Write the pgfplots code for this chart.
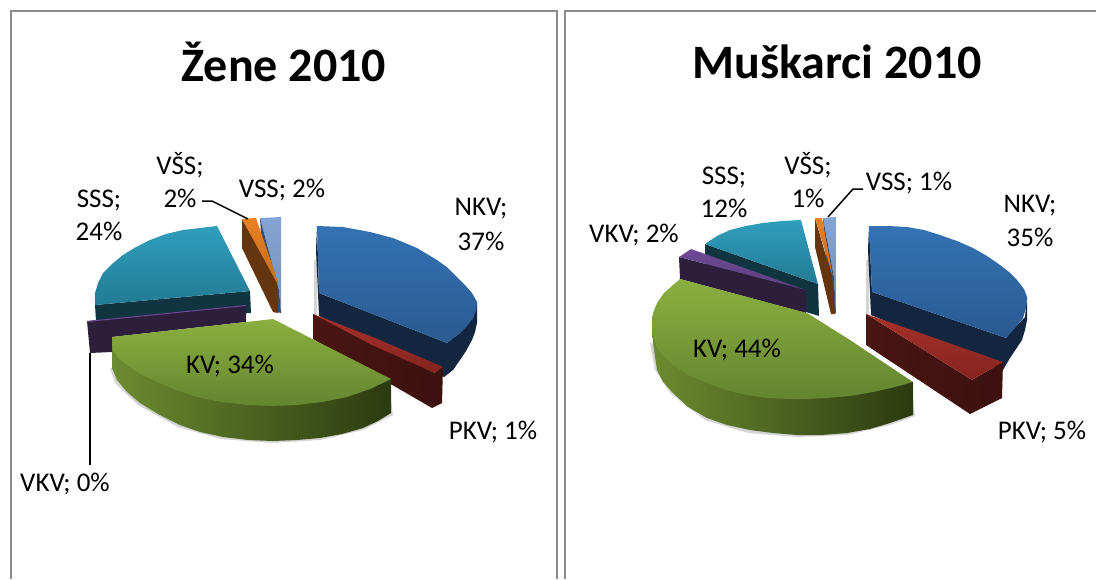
\documentclass[border=0pt]{standalone}
\usepackage{fontspec}
\setmainfont{Carlito}
\usepackage{pgfplots}
\pgfplotsset{compat=1.18}
\definecolor{nkvT}{HTML}{3472B4}\definecolor{nkvB}{HTML}{2A5A90}\definecolor{nkvS}{HTML}{12263F}
\definecolor{pkvT}{HTML}{A8302C}\definecolor{pkvB}{HTML}{842420}\definecolor{pkvS}{HTML}{4A1512}
\definecolor{kvT}{HTML}{8BAF3F}\definecolor{kvB}{HTML}{648530}\definecolor{kvL}{HTML}{6C8C30}\definecolor{kvM}{HTML}{455A1E}\definecolor{kvR}{HTML}{2C3A10}
\definecolor{vkvT}{HTML}{6D4A94}\definecolor{vkvS}{HTML}{2D1E3C}
\definecolor{sssT}{HTML}{2F9FBD}\definecolor{sssB}{HTML}{237A94}\definecolor{sssS}{HTML}{113540}
\definecolor{vssT}{HTML}{84A4D6}\definecolor{vssB}{HTML}{7A90B0}\definecolor{vssS}{HTML}{3B4C66}
\definecolor{vsoT}{HTML}{E98024}\definecolor{vsoS}{HTML}{65350F}
\definecolor{frame}{HTML}{8C8C8C}\definecolor{shad}{HTML}{D4D4D4}
\newcommand{\lab}[3]{\node[font=\fontsize{27}{32}\selectfont,text=black,inner sep=0pt] at (#1,#2) {#3};}
\pgfplotsset{poly/.style={draw=none,forget plot,mark=none}}
\begin{document}
\begin{tikzpicture}
\begin{axis}[scale only axis,width=1096pt,height=579pt,xmin=0,xmax=1096,ymin=0,ymax=579,y dir=reverse,hide axis,clip=true]
\path (axis cs:0,0) -- (axis cs:1096,579);
% frames
\addplot[frame,line width=1.8pt,forget plot,mark=none] coordinates {(11,579)(11,11)(557,11)(557,579)};
\addplot[frame,line width=1.8pt,forget plot,mark=none] coordinates {(565,579)(565,11)(1096,11)};
% ===== left pie =====
% shadows
\addplot[poly,fill=shad] coordinates {(110,368)(115,383)(138,405)(178,427)(221,439)(273,443)(320,440)(363,430)(393,415)(391,400)};
\addplot[poly,fill=shad] coordinates {(314,260)(317,260)(317,320)(314,320)};
% VSS
\addplot[poly,top color=vssT,bottom color=vssB] coordinates {(260,218)(281,217)(281,313)(279,290)};
\addplot[poly,fill=vssS] coordinates {(260,218)(279,290)(281,313)(277,312)(262,250)};
% VSO
\addplot[poly,fill=vsoS] coordinates {(242,219)(277,280)(278,313)(273,312)(242,248)};
\addplot[poly,top color=vsoT,bottom color=vsoT!85!black] coordinates {(242,219)(256,218)(277,279)(277,283)};
% SSS
\addplot[poly,fill=sssS] coordinates {(95,305)(250,291)(251,313)(96,321)};
\addplot[poly,top color=sssT,bottom color=sssB] coordinates {(217,226)(250,291)(95,305)(95,293)(98,283)(103,273)(112,264)(123,255)(136,247)(150,240)(166,234)(183,230)(200,228)};
% VKV
\addplot[poly,fill=vkvS] coordinates {(87,321)(246,305)(246,322)(112,337)(112,352)(90,353)};
\addplot[poly,fill=vkvT] coordinates {(87,321)(246,305)(246,306)(87,322)};
% NKV
\addplot[poly,fill=nkvS] coordinates {(317,226)(319,293)(447,343)(460,333)(473,318)(477,302)(477,323)(475,332)(472,340)(466,351)(460,360)(453,370)(444,377)(319,316)(316,250)};
\addplot[poly,top color=nkvT,bottom color=nkvB] coordinates {(317,226)(343,227)(370,232)(393,238)(417,248)(437,260)(448,268)(457,277)(465,285)(472,293)(477,302)(476,311)(473,318)(467,326)(460,333)(447,343)(319,293)};
% PKV
\addplot[poly,left color=pkvS,right color=pkvS!80!black] coordinates {(313,314)(435,373)(443,367)(442,403)(432,408)(313,339)};
\addplot[poly,top color=pkvT,bottom color=pkvB] coordinates {(313,314)(375,338)(443,367)(435,373)(372,345)};
% KV
\addplot[poly,left color=kvL,middle color=kvM,right color=kvR] coordinates {(112,337)(391,379)(391,413)(378,421)(363,428)(342,434)(320,438)(297,440)(273,441)(248,440)(223,437)(200,432)(180,425)(158,414)(140,403)(127,392)(117,380)(112,368)};
\addplot[poly,top color=kvT,bottom color=kvB] coordinates {(112,337)(273,319)(391,379)(370,389)(347,397)(322,402)(297,405)(272,406)(247,405)(221,402)(197,397)(176,390)(157,382)(140,374)(127,365)(118,358)(113,350)};
% leaders
\addplot[black,line width=1.5pt,forget plot,mark=none] coordinates {(202,201)(212,201)(248,219)};
\addplot[black,line width=2pt,forget plot,mark=none] coordinates {(89.5,353)(89.5,465)};
% ===== right pie =====
\addplot[poly,fill=shad] coordinates {(650,343)(655,370)(671,394)(705,420)(748,433)(797,437)(847,435)(890,425)(915,416)(913,400)};
\addplot[poly,fill=shad] coordinates {(866,260)(869,260)(869,320)(866,320)};
\addplot[poly,top color=vssT,bottom color=vssB] coordinates {(823,218)(836,217)(836,313)(834,277)};
\addplot[poly,fill=vssS] coordinates {(823,218)(834,277)(836,313)(832,313)(825,250)};
\addplot[poly,fill=vsoS] coordinates {(815,218)(832,277)(835,314)(831,314)(815,247)};
\addplot[poly,top color=vsoT,bottom color=vsoT!85!black] coordinates {(815,218)(822,218)(833,277)};
\addplot[poly,fill=sssS] coordinates {(705,244)(818,284)(819,316)(806,312)(705,270)};
\addplot[poly,top color=sssT,bottom color=sssB] coordinates {(705,244)(717,236)(730,230)(746,226)(763,223)(782,221)(801,220)(818,284)};
\addplot[poly,fill=vkvS] coordinates {(679,257)(806,290)(806,313)(680,279)};
\addplot[poly,top color=vkvT,bottom color=vkvT!85!black] coordinates {(679,257)(691,249)(806,290)};
\addplot[poly,fill=nkvS] coordinates {(869,226)(872,292)(1006,338)(1017,325)(1025,317)(1027,297)(1027,320)(1025,330)(1022,340)(1016,349)(1010,358)(1003,370)(871,315)(868,250)};
\addplot[poly,top color=nkvT,bottom color=nkvB] coordinates {(869,226)(888,226)(907,227)(924,230)(940,235)(957,241)(973,248)(987,256)(1000,265)(1009,272)(1017,280)(1024,289)(1027,297)(1026,308)(1023,318)(1015,328)(1006,338)(872,292)};
\addplot[poly,left color=pkvS,right color=pkvS!80!black] coordinates {(866,314)(972,380)(1003,362)(1002,398)(970,414)(866,345)};
\addplot[poly,top color=pkvT,bottom color=pkvB] coordinates {(866,314)(1003,362)(972,380)};
\addplot[poly,left color=kvL,middle color=kvM,right color=kvR] coordinates {(652,323)(913,382)(913,415)(890,423)(870,429)(847,433)(822,435)(797,435)(773,433)(750,430)(727,425)(707,418)(688,407)(673,393)(663,382)(657,370)(653,343)};
\addplot[poly,top color=kvT,bottom color=kvB] coordinates {(680,279)(807,313)(850,340)(913,382)(895,387)(873,392)(850,396)(827,398)(808,399)(790,399)(768,398)(747,395)(726,390)(707,383)(688,375)(673,365)(663,356)(657,348)(653,335)(652,323)(653,313)(657,303)(664,293)(673,285)};
\addplot[black,line width=1.5pt,forget plot,mark=none] coordinates {(828,217)(853,189)(863,189)};
% ===== text =====
\node[font=\fontsize{48}{56}\selectfont\bfseries,inner sep=0pt] at (284,62) {Žene 2010};
\node[font=\fontsize{48}{56}\selectfont\bfseries,inner sep=0pt] at (837,62) {Muškarci 2010};
\lab{481}{209}{NKV;}\lab{481}{241}{37\%}
\lab{493}{432}{PKV; 1\%}
\lab{230}{366}{KV; 34\%}
\lab{65}{484}{VKV; 0\%}
\lab{99}{200}{SSS;}\lab{99}{231}{24\%}
\lab{180}{165}{VŠS;}\lab{180}{198}{2\%}
\lab{282}{190}{VSS; 2\%}
\lab{1030}{206}{NKV;}\lab{1030}{237}{35\%}
\lab{1042}{432}{PKV; 5\%}
\lab{737}{350}{KV; 44\%}
\lab{634}{235}{VKV; 2\%}
\lab{724}{177}{SSS;}\lab{724}{208}{12\%}
\lab{808}{165}{VŠS;}\lab{808}{198}{1\%}
\lab{909}{183}{VSS; 1\%}
\end{axis}
\end{tikzpicture}
\end{document}
